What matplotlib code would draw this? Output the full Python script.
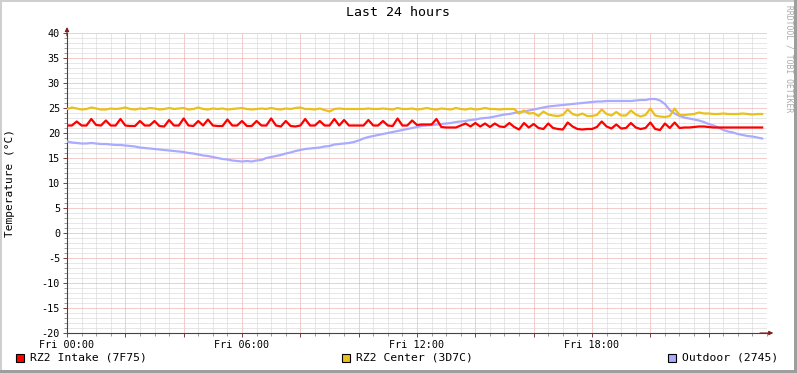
import numpy as np
import matplotlib
matplotlib.use("Agg")
import matplotlib.pyplot as plt
from matplotlib.patches import Rectangle
from matplotlib.ticker import MultipleLocator, FixedLocator

plt.rcParams["lines.scale_dashes"] = False

# ---------------- data (10-minute samples, Fri 00:00 .. 23:50) ----------------
minutes = np.arange(0, 1440, 10)

intake = [
    21.5, 21.5, 22.3, 21.5, 21.5, 22.8, 21.6, 21.5, 22.5, 21.5,
    21.5, 22.8, 21.5, 21.4, 21.4, 22.4, 21.5, 21.5, 22.4, 21.4,
    21.3, 22.6, 21.5, 21.5, 22.9, 21.5, 21.4, 22.4, 21.5, 22.7,
    21.5, 21.4, 21.4, 22.7, 21.5, 21.5, 22.4, 21.4, 21.4, 22.4,
    21.5, 21.5, 22.9, 21.5, 21.3, 22.4, 21.4, 21.3, 21.5, 22.8,
    21.5, 21.5, 22.4, 21.5, 21.5, 22.8, 21.5, 22.6, 21.5, 21.5,
    21.5, 21.5, 22.6, 21.5, 21.5, 22.4, 21.5, 21.4, 22.9, 21.5,
    21.5, 22.5, 21.6, 21.7, 21.7, 21.7, 22.8,
    21.2, 21.1, 21.1, 21.1, 21.5, 21.9, 21.3, 22.0, 21.3, 21.9,
    21.2, 21.9, 21.3, 21.2, 22.0, 21.2, 20.7, 22.0, 21.1, 21.8,
    21.0, 20.8, 21.9, 21.0, 20.8, 20.7, 22.1, 21.3, 20.8, 20.7,
    20.8, 20.8, 21.2, 22.3, 21.3, 20.9, 21.7, 20.9, 21.0, 22.0,
    21.1, 20.8, 21.0, 22.1, 20.8, 20.6, 21.9, 21.0, 22.1, 21.0,
    21.1, 21.1, 21.2, 21.3, 21.3, 21.2, 21.1, 21.1, 21.1, 21.1,
    21.1, 21.1, 21.1, 21.1, 21.1, 21.1, 21.1,
]

center = [
    24.8, 25.1, 24.9, 24.7, 24.8, 25.1, 24.9, 24.7, 24.7, 24.9,
    24.8, 24.9, 25.1, 24.8, 24.7, 24.9, 24.8, 25.0, 24.9, 24.7,
    24.8, 25.0, 24.8, 24.9, 25.0, 24.7, 24.8, 25.1, 24.8, 24.7,
    24.9, 24.8, 24.9, 24.7, 24.8, 24.9, 25.0, 24.8, 24.7, 24.8,
    24.9, 24.8, 25.0, 24.8, 24.7, 24.9, 24.8, 25.0, 25.1, 24.8,
    24.8, 24.7, 24.9, 24.6, 24.3, 24.8, 24.9, 24.8, 24.8, 24.8,
    24.8, 24.8, 24.9, 24.8, 24.8, 24.9, 24.8, 24.7, 25.0, 24.8,
    24.8, 24.9, 24.7, 24.8, 25.0, 24.8, 24.7, 24.9, 24.8, 24.7,
    25.0, 24.8, 24.7, 24.9, 24.7, 24.8, 25.0, 24.8, 24.8, 24.7,
    24.8, 24.8, 24.8,
    23.9, 24.5, 23.9, 24.0, 23.4, 24.3, 23.7, 23.5, 23.4, 23.6,
    24.7, 23.8, 23.5, 23.9, 23.4, 23.4, 23.6, 24.7, 23.8, 23.5,
    24.2, 23.5, 23.5, 24.5, 23.7, 23.3, 23.6, 24.9, 23.5, 23.3,
    23.2, 23.4, 24.9, 23.6, 23.6, 23.7, 23.8, 24.1, 23.9, 23.9,
    23.8, 23.8, 23.9, 23.8, 23.8, 23.8, 23.9, 23.8, 23.7, 23.8,
    23.8,
]

outdoor = [
    18.3, 18.1, 18.0, 17.9, 17.9, 18.0, 17.9, 17.8, 17.8, 17.7,
    17.6, 17.6, 17.5, 17.4, 17.3, 17.1, 17.0, 16.9, 16.8, 16.7,
    16.6, 16.5, 16.4, 16.3, 16.2, 16.0, 15.9, 15.7, 15.5, 15.4,
    15.2, 15.0, 14.8, 14.7, 14.5, 14.4, 14.3, 14.4, 14.3, 14.5,
    14.6, 15.0, 15.2, 15.4, 15.6, 15.9, 16.1, 16.4, 16.6, 16.8,
    16.9, 17.0, 17.1, 17.3, 17.4, 17.7, 17.8, 17.9, 18.0, 18.2,
    18.5, 18.9, 19.2, 19.4, 19.6, 19.8, 20.0, 20.2, 20.4, 20.6,
    20.8, 21.0, 21.2, 21.4, 21.5, 21.6, 21.7, 21.8, 21.9, 22.0,
    22.2, 22.3, 22.4, 22.6, 22.7, 22.9, 23.0, 23.1, 23.3, 23.5,
    23.7, 23.8, 24.0, 24.2, 24.3, 24.5, 24.7, 24.9, 25.1, 25.3,
    25.4, 25.5, 25.6, 25.7, 25.8, 25.9, 26.0, 26.1, 26.2, 26.3,
    26.3, 26.4, 26.4, 26.4, 26.4, 26.4, 26.4, 26.5, 26.6, 26.6,
    26.8, 26.8, 26.5, 25.8, 24.6, 23.9, 23.4, 23.1, 22.9, 22.7,
    22.5, 22.2, 21.8, 21.5, 21.1, 20.6, 20.3, 20.1, 19.8, 19.6,
    19.4, 19.3, 19.1, 18.9,
]

series_names = ["RZ2 Intake (7F75)", "RZ2 Center (3D7C)", "Outdoor (2745)"]
series_colors = ["#FF0000", "#EAC01E", "#AAAAFF"]
x_tick_hours = [0, 6, 12, 18]
x_tick_labels = ["Fri 00:00", "Fri 06:00", "Fri 12:00", "Fri 18:00"]
y_ticks = [-20, -15, -10, -5, 0, 5, 10, 15, 20, 25, 30, 35, 40]

# ---------------- figure ----------------
MONO = "DejaVu Sans Mono"
W, H = 797, 373
fig = plt.figure(figsize=(W / 100, H / 100), dpi=100)
fig.patch.set_facecolor("#FFFFFF")

# 3D frame
fig.add_artist(Rectangle((0, 1 - 2 / H), 1, 2 / H, transform=fig.transFigure, color="#CFCFCF", lw=0))
fig.add_artist(Rectangle((0, 0), 2 / W, 1, transform=fig.transFigure, color="#CFCFCF", lw=0))
fig.add_artist(Rectangle((0, 0), 1, 3 / H, transform=fig.transFigure, color="#9E9E9E", lw=0))
fig.add_artist(Rectangle((1 - 3 / W, 0), 3 / W, 1, transform=fig.transFigure, color="#9E9E9E", lw=0))

ax = fig.add_axes([67 / W, 40 / H, 700 / W, 300 / H])
ax.set_facecolor("#FFFFFF")
ax.set_xlim(0, 24)
ax.set_ylim(-20, 40)

hours = minutes / 60.0
ax.plot(hours, outdoor, color=series_colors[2], lw=1.6, zorder=3)
ax.plot(hours, center, color=series_colors[1], lw=1.6, zorder=4)
ax.plot(hours, intake, color=series_colors[0], lw=1.6, zorder=5)

# grid (dotted, RRDtool style)
ax.xaxis.set_major_locator(MultipleLocator(2))
ax.xaxis.set_minor_locator(MultipleLocator(0.5))
ax.yaxis.set_major_locator(FixedLocator(y_ticks))
ax.yaxis.set_minor_locator(MultipleLocator(1))
ax.grid(which="minor", color="#D0D0D0", lw=0.72, linestyle=(0, (0.72, 0.72)), zorder=1)
ax.grid(which="major", color="#E89A9A", lw=0.72, linestyle=(0, (0.72, 0.72)), zorder=2)
ax.set_axisbelow(True)

major_x = np.arange(0, 24, 2)
labels = []
for h in major_x:
    labels.append(x_tick_labels[x_tick_hours.index(h)] if h in x_tick_hours else "")
ax.set_xticks(major_x)
ax.set_xticklabels(labels)
ax.set_yticklabels([str(v) for v in y_ticks])

ax.tick_params(axis="both", which="major", length=3, width=0.7, color="#7F3F3F",
               labelsize=7.3, pad=2)
ax.tick_params(axis="both", which="minor", length=2, width=0.7, color="#999999")
for lab in ax.get_xticklabels() + ax.get_yticklabels():
    lab.set_family(MONO)

for s in ["top", "right"]:
    ax.spines[s].set_visible(False)
for s in ["left", "bottom"]:
    ax.spines[s].set_color("#5A3A3A")
    ax.spines[s].set_linewidth(0.8)

# arrows
ax.annotate("", xy=(1.009, 0), xytext=(0.99, 0), xycoords="axes fraction",
            arrowprops=dict(arrowstyle="-|>", color="#7F1F1F", lw=0.8, mutation_scale=6,
                            shrinkA=0, shrinkB=0), annotation_clip=False)
ax.annotate("", xy=(0, 1.02), xytext=(0, 0.99), xycoords="axes fraction",
            arrowprops=dict(arrowstyle="-|>", color="#7F1F1F", lw=0.8, mutation_scale=6,
                            shrinkA=0, shrinkB=0), annotation_clip=False)

# texts
fig.text(0.5, 1 - 13 / H, "Last 24 hours", ha="center", va="center", fontsize=9.5, family=MONO)
fig.text(10 / W, 1 - 183 / H, "Temperature (°C)", rotation=90, ha="center", va="center",
         fontsize=8, family=MONO)
fig.text(789 / W, 1 - 5 / H, "RRDTOOL / TOBI OETIKER", rotation=270, ha="center", va="top",
         fontsize=5.8, family=MONO, color="#AAAAAA")

# legend
leg_x = [16, 342, 668]
for x0, name, col in zip(leg_x, series_names, series_colors):
    fig.add_artist(Rectangle((x0 / W, 1 - 362 / H), 8 / W, 8 / H, transform=fig.transFigure,
                             facecolor=col, edgecolor="#000000", lw=0.8))
    fig.text((x0 + 14) / W, 1 - 358 / H, name, ha="left", va="center", fontsize=8.2, family=MONO)

fig.savefig("out.png", dpi=100, facecolor=fig.get_facecolor())
